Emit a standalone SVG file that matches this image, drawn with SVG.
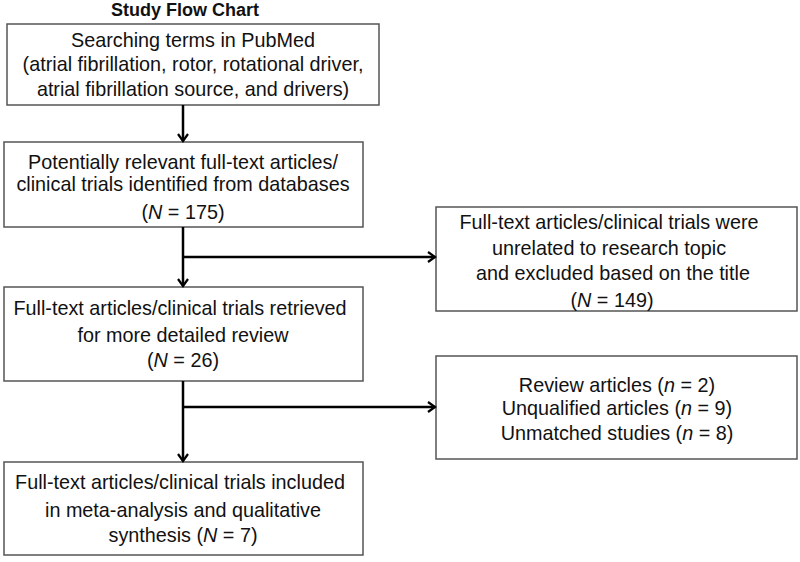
<svg xmlns="http://www.w3.org/2000/svg" width="800" height="562" viewBox="0 0 800 562">
<style>
.box{fill:#fff;stroke:#555;stroke-width:1.5}
.t{font-family:"Liberation Sans",Arial,sans-serif;font-size:19.8px;fill:#111;text-anchor:middle}
.title{font-family:"Liberation Sans",Arial,sans-serif;font-size:18px;font-weight:bold;fill:#111;text-anchor:middle}
.c{fill:none;stroke:#000;stroke-width:2.5}
</style>
<defs>
<marker id="ah" markerWidth="12" markerHeight="12" refX="9" refY="6" orient="auto" markerUnits="userSpaceOnUse">
<path d="M2,1 L9,6 L2,11" fill="none" stroke="#000" stroke-width="2.2"/>
</marker>
</defs>
<text class="title" x="185" y="16">Study Flow Chart</text>
<g id="n1">
<rect class="box" x="7" y="24" width="372" height="81"/>
<text class="t" x="193" y="47">Searching terms in PubMed</text>
<text class="t" x="193" y="71">(atrial fibrillation, rotor, rotational driver,</text>
<text class="t" x="193" y="96">atrial fibrillation source, and drivers)</text>
</g>
<g id="n2">
<rect class="box" x="4" y="142" width="359" height="85"/>
<text class="t" x="183" y="169">Potentially relevant full-text articles/</text>
<text class="t" x="183" y="191">clinical trials identified from databases</text>
<text class="t" x="183" y="219">(<tspan font-style="italic">N</tspan> = 175)</text>
</g>
<g id="n3">
<rect class="box" x="4" y="287" width="359" height="94"/>
<text class="t" x="180" y="315">Full-text articles/clinical trials retrieved</text>
<text class="t" x="183" y="342">for more detailed review</text>
<text class="t" x="183" y="367">(<tspan font-style="italic">N</tspan> = 26)</text>
</g>
<g id="n4">
<rect class="box" x="4" y="462" width="359" height="93"/>
<text class="t" x="180" y="489">Full-text articles/clinical trials included</text>
<text class="t" x="183" y="517">in meta-analysis and qualitative</text>
<text class="t" x="183" y="542">synthesis (<tspan font-style="italic">N</tspan> = 7)</text>
</g>
<g id="n5">
<rect class="box" x="436" y="207" width="361" height="104"/>
<text class="t" x="609" y="229">Full-text articles/clinical trials were</text>
<text class="t" x="609" y="255">unrelated to research topic</text>
<text class="t" x="613" y="280">and excluded based on the title</text>
<text class="t" x="612" y="307">(<tspan font-style="italic">N</tspan> = 149)</text>
</g>
<g id="n6">
<rect class="box" x="436" y="356" width="361" height="103"/>
<text class="t" x="617" y="392">Review articles (<tspan font-style="italic">n</tspan> = 2)</text>
<text class="t" x="617" y="415">Unqualified articles (<tspan font-style="italic">n</tspan> = 9)</text>
<text class="t" x="617" y="440">Unmatched studies (<tspan font-style="italic">n</tspan> = 8)</text>
</g>
<g id="connectors">
<path class="c" d="M183,105 V141" marker-end="url(#ah)"/>
<path class="c" d="M183,227 V286" marker-end="url(#ah)"/>
<path class="c" d="M183,257 H435" marker-end="url(#ah)"/>
<path class="c" d="M183,381 V461" marker-end="url(#ah)"/>
<path class="c" d="M183,407 H435" marker-end="url(#ah)"/>
</g>
</svg>
